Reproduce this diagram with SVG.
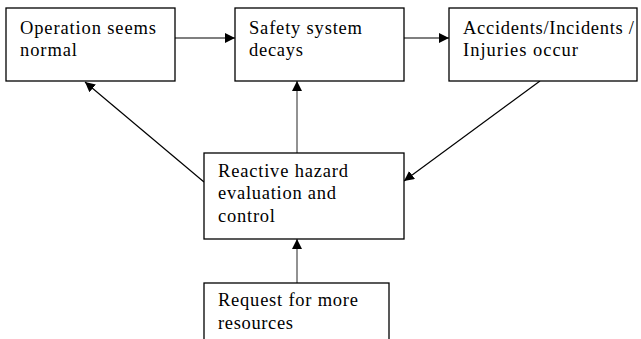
<svg xmlns="http://www.w3.org/2000/svg" width="641" height="339" viewBox="0 0 641 339">
<style>
.box{fill:#fff;stroke:#000;stroke-width:1.3}
.t{font-family:"Liberation Serif","Times New Roman",serif;font-size:18.5px;fill:#000}
.c{stroke:#000;stroke-width:1.2;fill:none;marker-end:url(#ah)}
.g{stroke:#777;stroke-width:1.6;fill:none;marker-end:url(#ah)}
</style>
<defs>
<marker id="ah" viewBox="0 0 10 10" refX="10" refY="5" markerWidth="10" markerHeight="10" markerUnits="userSpaceOnUse" orient="auto">
<path d="M0,0 L10,5 L0,10 z" fill="#000"/>
</marker>
</defs>
<rect width="641" height="339" fill="#fff"/>
<g id="connectors">
<line class="c" x1="175" y1="38" x2="235" y2="38"/>
<line class="c" x1="404" y1="38" x2="449" y2="38"/>
<line class="g" x1="297" y1="153" x2="297" y2="81"/>
<line class="c" x1="204" y1="182" x2="85" y2="82"/>
<line class="c" x1="540" y1="81" x2="404" y2="181"/>
<line class="g" x1="297" y1="283" x2="297" y2="239"/>
</g>
<g id="n1">
<rect class="box" x="6" y="8" width="169" height="73"/>
<text class="t" x="20" y="34" textLength="136" lengthAdjust="spacing">Operation seems</text>
<text class="t" x="20" y="56" textLength="57" lengthAdjust="spacing">normal</text>
</g>
<g id="n2">
<rect class="box" x="235" y="8" width="169" height="73"/>
<text class="t" x="249" y="34" textLength="113" lengthAdjust="spacing">Safety system</text>
<text class="t" x="249" y="56" textLength="54" lengthAdjust="spacing">decays</text>
</g>
<g id="n3">
<rect class="box" x="449" y="8" width="188" height="73"/>
<text class="t" x="463" y="34" textLength="171" lengthAdjust="spacing">Accidents/Incidents /</text>
<text class="t" x="463" y="56" textLength="115" lengthAdjust="spacing">Injuries occur</text>
</g>
<g id="n4">
<rect class="box" x="204" y="153" width="200" height="86"/>
<text class="t" x="218" y="177" textLength="130" lengthAdjust="spacing">Reactive hazard</text>
<text class="t" x="218" y="199" textLength="118" lengthAdjust="spacing">evaluation and</text>
<text class="t" x="218" y="222" textLength="57" lengthAdjust="spacing">control</text>
</g>
<g id="n5">
<rect class="box" x="204" y="283" width="185" height="70"/>
<text class="t" x="218" y="306" textLength="140" lengthAdjust="spacing">Request for more</text>
<text class="t" x="218" y="329" textLength="75" lengthAdjust="spacing">resources</text>
</g>
</svg>
